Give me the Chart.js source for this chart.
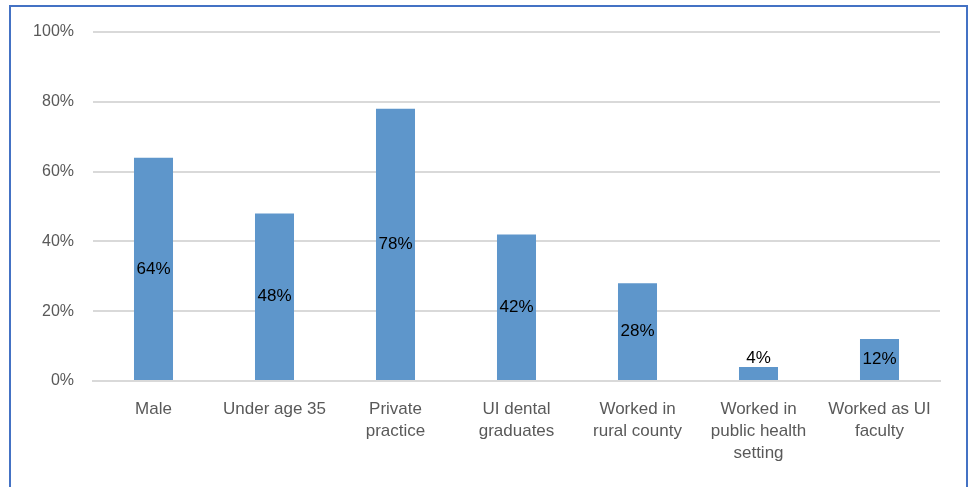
<!DOCTYPE html>
<html>
<head>
<meta charset="utf-8">
<script src="https://cdn.jsdelivr.net/npm/chart.js@4"></script>
<style>
  html, body { margin: 0; padding: 0; background: #fff; overflow: hidden; }
  #frame { position: absolute; left: 9px; top: 5px; width: 959px; height: 520px; border: 2px solid #4472c4; box-sizing: border-box; }
  #c { position: absolute; left: 0; top: 0; }
</style>
</head>
<body>
<div id="frame"></div>
<canvas id="c" width="974" height="487"></canvas>
<script>
const categories = [
  ["Male"],
  ["Under age 35"],
  ["Private", "practice"],
  ["UI dental", "graduates"],
  ["Worked in", "rural county"],
  ["Worked in", "public health", "setting"],
  ["Worked as UI", "faculty"]
];
const values = [64, 48, 78, 42, 28, 4, 12];
const yTicks = [0, 20, 40, 60, 80, 100];

const FONT = "'Liberation Sans', 'Open Sans', sans-serif";

const labelPlugin = {
  id: 'barLabels',
  afterDatasetsDraw(chart) {
    const ctx = chart.ctx;
    const meta = chart.getDatasetMeta(0);
    ctx.save();
    ctx.font = "17px " + FONT;
    ctx.fillStyle = "#000";
    ctx.textAlign = "center";
    ctx.textBaseline = "middle";
    meta.data.forEach((bar, i) => {
      const txt = values[i] + "%";
      const h = bar.base - bar.y;
      let y;
      if (h < 20) {
        y = bar.y - 9;
      } else {
        y = (bar.y + bar.base) / 2;
      }
      ctx.fillText(txt, bar.x, y);
    });
    ctx.restore();
  }
};

new Chart(document.getElementById('c'), {
  type: 'bar',
  data: {
    labels: categories,
    datasets: [{
      data: values,
      backgroundColor: '#5e96cb',
      borderWidth: 0,
      barPercentage: 0.645,
      categoryPercentage: 0.5
    }]
  },
  options: {
    responsive: false,
    animation: false,
    devicePixelRatio: 1,
    layout: { padding: { left: 0, right: 34, top: 32, bottom: 0 } },
    plugins: { legend: { display: false }, tooltip: { enabled: false } },
    scales: {
      x: {
        grid: { display: false, drawTicks: false },
        border: { display: true, color: '#d9d9d9', width: 2 },
        ticks: {
          color: '#595959',
          font: { family: FONT, size: 17, lineHeight: 1.3 },
          padding: 17,
          maxRotation: 0,
          autoSkip: false
        },
        afterFit(axis) { axis.height = 106; }
      },
      y: {
        min: 0, max: 100,
        afterBuildTicks(axis) { axis.ticks = yTicks.map(v => ({ value: v })); },
        grid: { color: '#d9d9d9', lineWidth: 2, drawTicks: false },
        border: { display: false },
        ticks: {
          color: '#595959',
          font: { family: FONT, size: 16 },
          padding: 19,
          callback: v => v + '%'
        },
        afterFit(axis) { axis.width = 93; }
      }
    }
  },
  plugins: [labelPlugin]
});
</script>
</body>
</html>
